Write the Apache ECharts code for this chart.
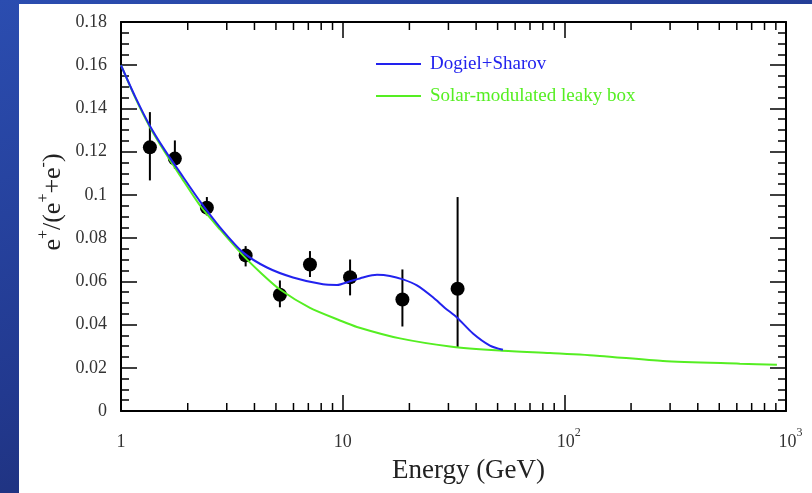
<!DOCTYPE html>
<html>
<head>
<meta charset="utf-8">
<script src="https://cdn.jsdelivr.net/npm/echarts@6/dist/echarts.min.js"></script>
<style>
  html, body { margin: 0; padding: 0; width: 812px; height: 493px; overflow: hidden;
    background: linear-gradient(160deg, #2b4db0 0%, #22398f 50%, #1a2560 100%); }
  #paper { position: absolute; left: 19px; top: 4px; width: 793px; height: 489px; background: #fff; }
  #chart { position: absolute; left: 0; top: 0; width: 812px; height: 493px; }
</style>
</head>
<body>
<div id="paper"></div>
<div id="chart"></div>
<script>
// Positron fraction e+/(e+ + e-) versus energy, with two model curves.

// Measured points: energy (GeV), fraction, error-bar low / high
const pointEnergy = [1.35, 1.75, 2.44, 3.65, 5.21, 7.12, 10.8, 18.6, 33.0];
const pointValue  = [0.122, 0.1168, 0.0941, 0.072, 0.0538, 0.0678, 0.0619, 0.0516, 0.0566];
const pointLow    = [0.1067, 0.1121, 0.0905, 0.0669, 0.048, 0.062, 0.0535, 0.0391, 0.0295];
const pointHigh   = [0.1383, 0.1252, 0.099, 0.0763, 0.0604, 0.074, 0.0701, 0.0655, 0.099];

// Dogiel+Sharov model curve
const dogielEnergy = [1, 1.157, 1.351, 1.579, 1.845, 2.272, 2.797, 3.551, 4.556, 5.97, 8.15, 9.425,
                      10.79, 12.35, 14.28, 16.34, 18.71, 21.63, 25.55, 28.93, 32.78, 38.7, 46.17, 52.84];
const dogielValue  = [0.160, 0.1456, 0.1319, 0.1206, 0.1104, 0.097, 0.085, 0.0734, 0.0664, 0.0618,
                      0.0586, 0.0583, 0.06, 0.0618, 0.063, 0.0625, 0.0609, 0.0581, 0.0526, 0.0477,
                      0.0433, 0.0359, 0.0303, 0.0283];

// Solar-modulated leaky box model curve
const leakyEnergy = [1, 1.157, 1.351, 1.579, 1.845, 2.272, 2.797, 3.551, 4.325, 5.214, 7.121, 9.723,
                     11.6, 18.13, 30.5, 51.2, 86.1, 144.7, 278.4, 619.4, 909.9];
const leakyValue  = [0.160, 0.1451, 0.1313, 0.1197, 0.109, 0.0951, 0.084, 0.072, 0.0634, 0.0562,
                     0.0477, 0.0419, 0.0389, 0.0336, 0.0299, 0.028, 0.0268, 0.0255, 0.0231, 0.0219,
                     0.0214];

// Axis ranges and tick values
const X_MIN = 1, X_MAX = 1000;
const Y_MIN = 0, Y_MAX = 0.18, Y_STEP = 0.02;
const xMinorTicks = [2, 3, 4, 5, 6, 7, 8, 9, 20, 30, 40, 50, 60, 70, 80, 90,
                     200, 300, 400, 500, 600, 700, 800, 900];

const seriesNames = ['Dogiel+Sharov', 'Solar-modulated leaky box'];
const BLUE = '#2222ee';
const GREEN = '#55ee22';
const FONT = '"Liberation Serif", "Times New Roman", serif';

const chart = echarts.init(document.getElementById('chart'), null, { renderer: 'canvas' });

const frameLine = { show: true, onZero: false, lineStyle: { color: '#000', width: 2 } };
const majorTick = { show: true, inside: true, length: 16, lineStyle: { color: '#000', width: 1.5 } };

const xLabelRich = {
  b:  { fontFamily: FONT, fontSize: 18, color: '#333', lineHeight: 24, verticalAlign: 'bottom' },
  bb: { fontFamily: FONT, fontSize: 18, color: '#333', lineHeight: 24, verticalAlign: 'bottom', padding: [0, 0, 0, 9] },
  s:  { fontFamily: FONT, fontSize: 12, color: '#333', lineHeight: 12, verticalAlign: 'top' }
};
function xLabel(v) {
  const p = Math.round(Math.log10(v));
  if (p === 0) return '{b|1}';
  if (p === 1) return '{b|10}';
  return '{bb|10}{s|' + p + '}';
}

const option = {
  animation: false,
  backgroundColor: 'transparent',
  grid: { left: 121, right: 26, top: 22, bottom: 82 },
  legend: {
    orient: 'vertical',
    left: 371, top: 48,
    itemWidth: 45, itemHeight: 2,
    itemGap: 10,
    icon: 'rect',
    selectedMode: false,
    textStyle: { fontFamily: FONT, fontSize: 19, lineHeight: 22, padding: [0, 0, 0, 4] },
    data: [
      { name: seriesNames[0], textStyle: { color: BLUE } },
      { name: seriesNames[1], textStyle: { color: GREEN } }
    ]
  },
  xAxis: [
    {
      type: 'log', logBase: 10, min: X_MIN, max: X_MAX, position: 'bottom',
      axisLine: frameLine, axisTick: majorTick,
      axisLabel: { margin: 16, formatter: xLabel, rich: xLabelRich },
      splitLine: { show: false },
      name: 'Energy (GeV)', nameLocation: 'middle', nameGap: 46,
      nameTextStyle: { fontFamily: FONT, fontSize: 27, color: '#222', padding: [0, 0, 0, 30] }
    },
    {
      type: 'log', logBase: 10, min: X_MIN, max: X_MAX, position: 'top',
      axisLine: frameLine, axisTick: majorTick,
      axisLabel: { show: false }, splitLine: { show: false }
    }
  ],
  yAxis: [
    {
      type: 'value', min: Y_MIN, max: Y_MAX, interval: Y_STEP, position: 'left',
      axisLine: frameLine, axisTick: majorTick,
      minorTick: { show: true, splitNumber: 4, length: 8, lineStyle: { color: '#000', width: 1.5 } },
      axisLabel: { margin: 14, fontFamily: FONT, fontSize: 18, color: '#333' },
      splitLine: { show: false }, minorSplitLine: { show: false }
    },
    {
      type: 'value', min: Y_MIN, max: Y_MAX, interval: Y_STEP, position: 'right',
      axisLine: frameLine, axisTick: majorTick,
      minorTick: { show: true, splitNumber: 4, length: 8, lineStyle: { color: '#000', width: 1.5 } },
      axisLabel: { show: false },
      splitLine: { show: false }, minorSplitLine: { show: false }
    }
  ],
  graphic: [
    {
      type: 'text', x: 51, y: 202, rotation: Math.PI / 2,
      style: {
        text: '{e|e}{s|+}{e|/(e}{s|+}{e|+e}{s|-}{e|)}',
        align: 'center', verticalAlign: 'middle',
        rich: {
          e: { fontFamily: FONT, fontSize: 26, lineHeight: 30, fill: '#222', verticalAlign: 'bottom' },
          s: { fontFamily: FONT, fontSize: 16, lineHeight: 16, fill: '#222', verticalAlign: 'top' }
        }
      }
    }
  ],
  series: [
    {
      // minor ticks of the log energy axis, bottom and top edges
      type: 'custom', silent: true, clip: false, z: 3,
      xAxisIndex: 0, yAxisIndex: 0,
      data: xMinorTicks.map(v => [v, Y_MIN]),
      encode: { x: 0, y: 1 },
      renderItem: function (params, api) {
        const v = api.value(0);
        const b = api.coord([v, Y_MIN]);
        const t = api.coord([v, Y_MAX]);
        const st = { stroke: '#000', lineWidth: 1.5 };
        return {
          type: 'group',
          children: [
            { type: 'line', shape: { x1: b[0], y1: b[1], x2: b[0], y2: b[1] - 8 }, style: st },
            { type: 'line', shape: { x1: t[0], y1: t[1], x2: t[0], y2: t[1] + 8 }, style: st }
          ]
        };
      }
    },
    {
      // vertical error bars
      type: 'custom', silent: true, z: 3,
      xAxisIndex: 0, yAxisIndex: 0,
      data: pointEnergy.map((e, i) => [e, pointLow[i], pointHigh[i]]),
      encode: { x: 0, y: [1, 2] },
      renderItem: function (params, api) {
        const lo = api.coord([api.value(0), api.value(1)]);
        const hi = api.coord([api.value(0), api.value(2)]);
        return {
          type: 'line',
          shape: { x1: lo[0], y1: lo[1], x2: hi[0], y2: hi[1] },
          style: { stroke: '#000', lineWidth: 2 }
        };
      }
    },
    {
      type: 'scatter', name: 'data', z: 4,
      xAxisIndex: 0, yAxisIndex: 0,
      symbol: 'circle', symbolSize: 14,
      itemStyle: { color: '#000', opacity: 1 },
      data: pointEnergy.map((e, i) => [e, pointValue[i]])
    },
    {
      type: 'line', name: seriesNames[1], z: 5,
      xAxisIndex: 0, yAxisIndex: 0,
      showSymbol: false, symbol: 'none', smooth: 0.25,
      lineStyle: { color: GREEN, width: 2 }, itemStyle: { color: GREEN },
      data: leakyEnergy.map((e, i) => [e, leakyValue[i]])
    },
    {
      type: 'line', name: seriesNames[0], z: 6,
      xAxisIndex: 0, yAxisIndex: 0,
      showSymbol: false, symbol: 'none', smooth: 0.25,
      lineStyle: { color: BLUE, width: 2 }, itemStyle: { color: BLUE },
      data: dogielEnergy.map((e, i) => [e, dogielValue[i]])
    }
  ]
};

chart.setOption(option);
</script>
</body>
</html>
